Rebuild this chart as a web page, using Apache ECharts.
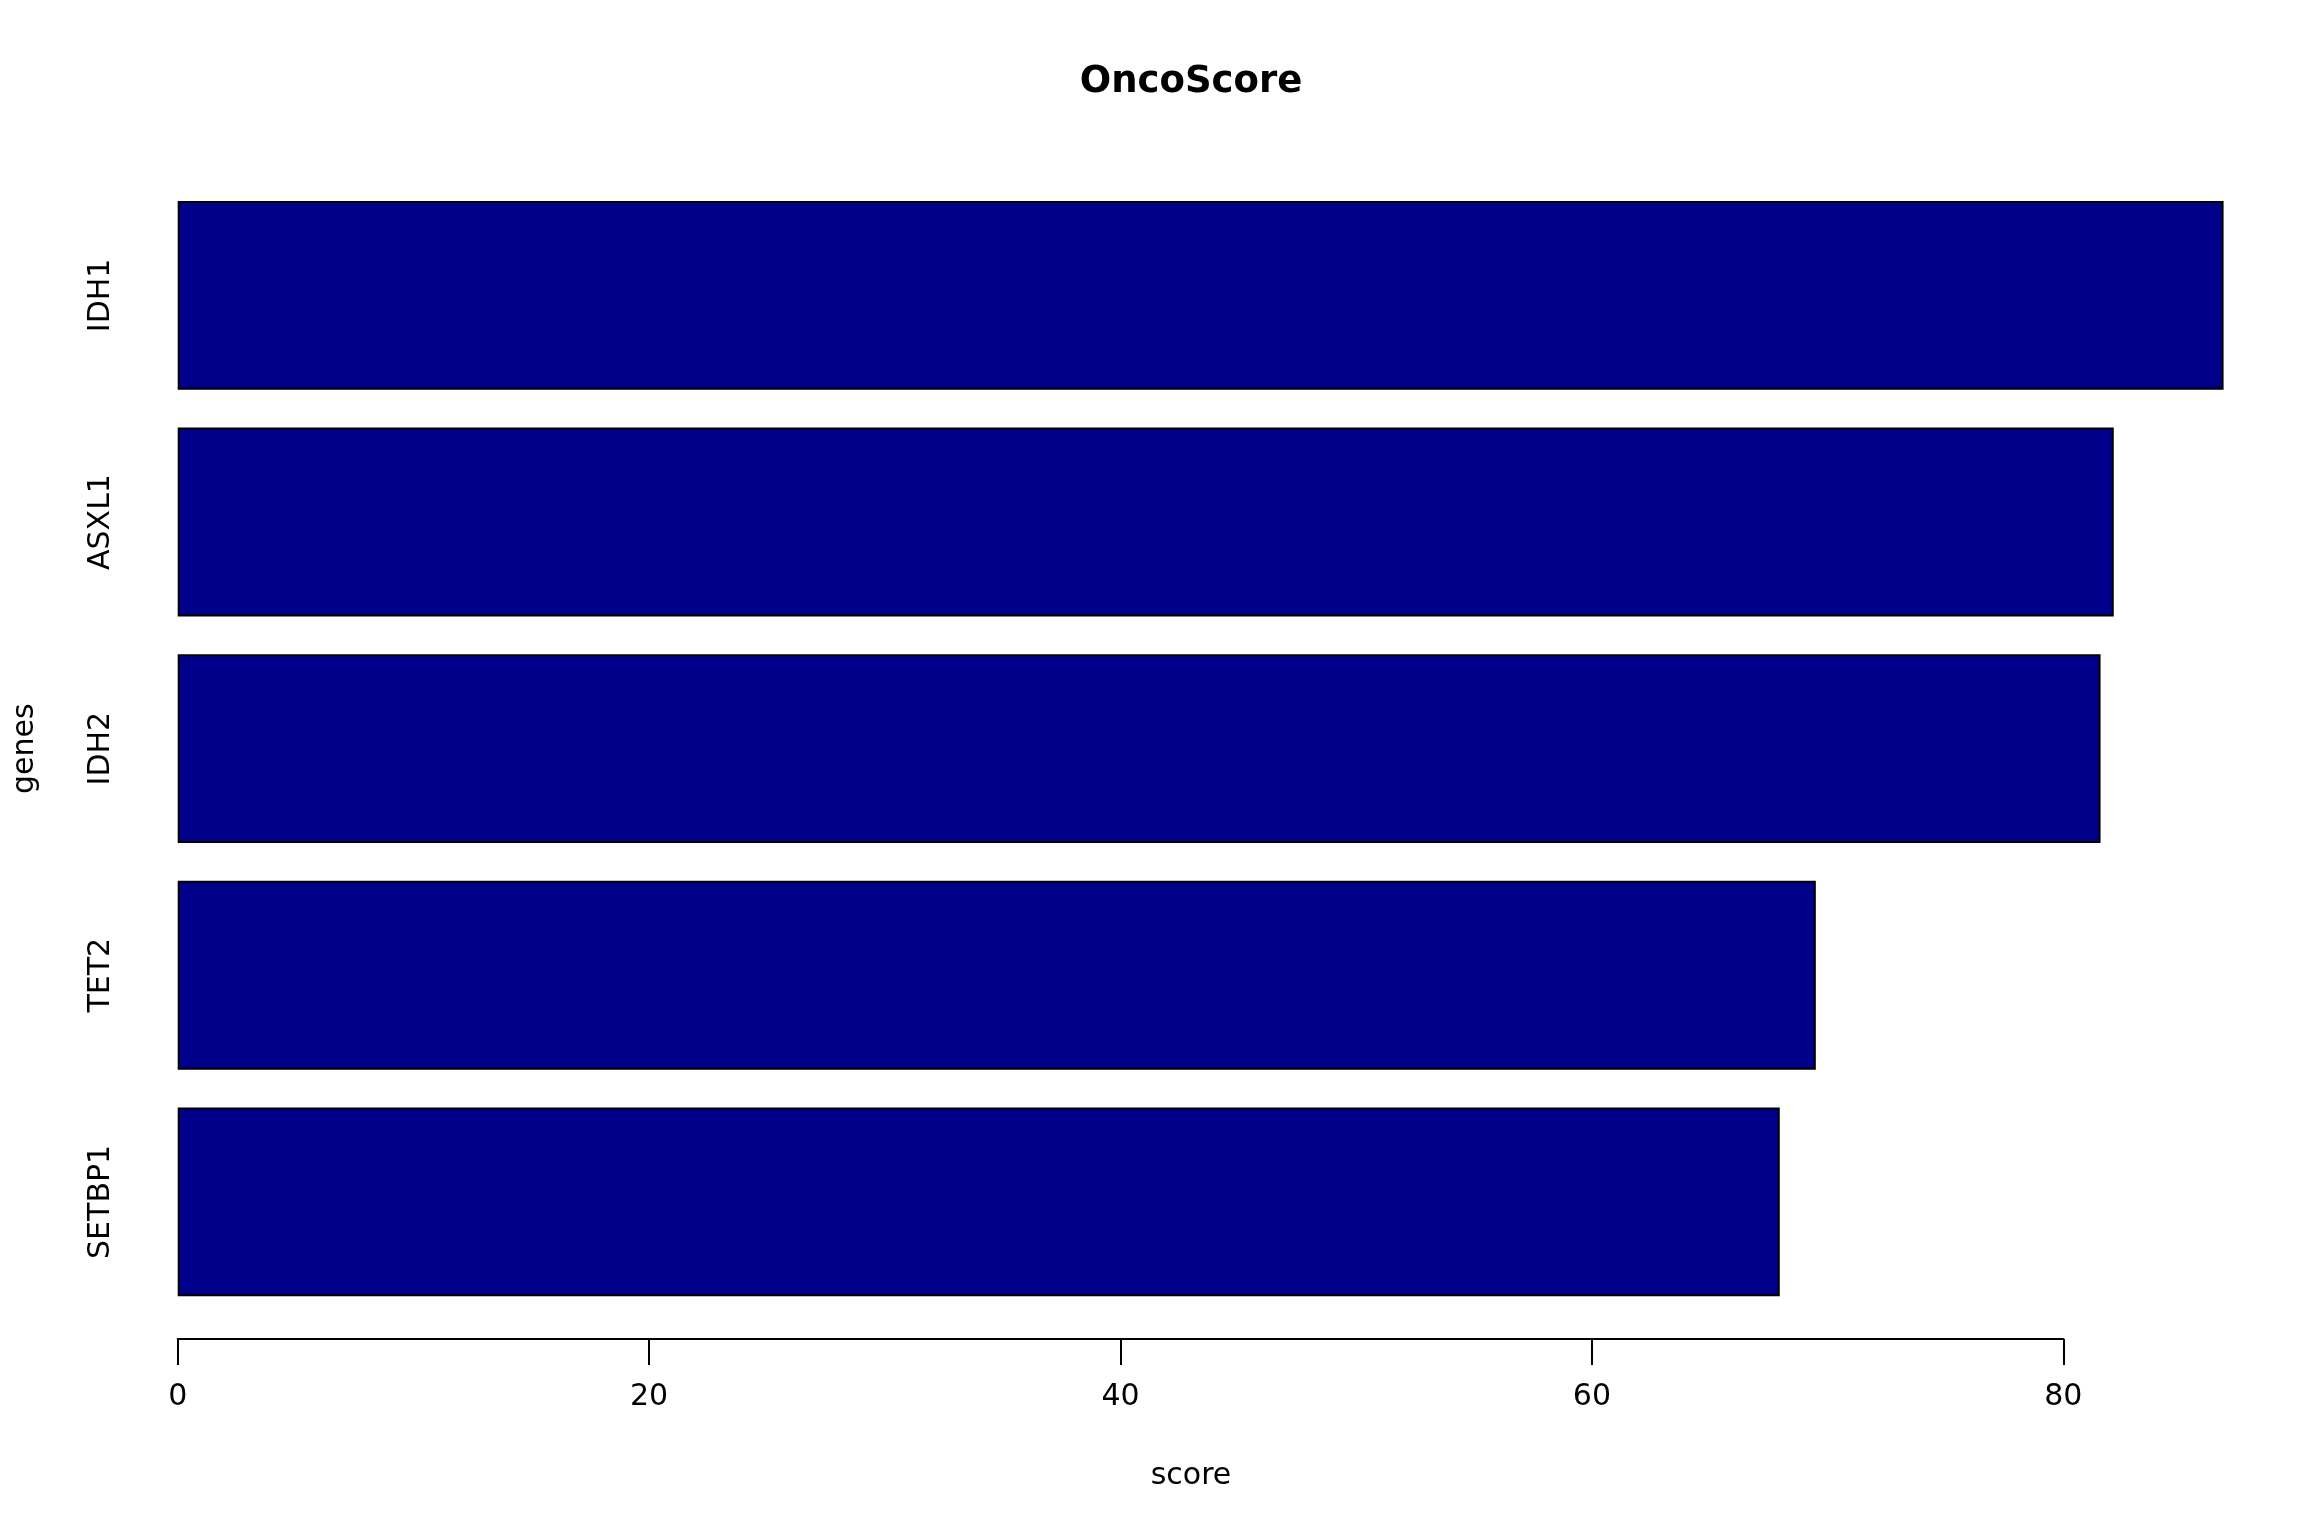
<!DOCTYPE html>
<html>
<head>
<meta charset="utf-8">
<script src="https://cdn.jsdelivr.net/npm/echarts@6/dist/echarts.min.js"></script>
<style>html,body{margin:0;padding:0;background:#fff}#c{width:2304px;height:1536px}</style>
</head>
<body>
<div id="c"></div>
<script>
const genes = ['IDH1', 'ASXL1', 'IDH2', 'TET2', 'SETBP1'];
const scores = [86.8, 82.14, 81.58, 69.5, 67.97];
const xTicks = [0, 20, 40, 60, 80];

const FONT = 'DejaVu Sans';
const chart = echarts.init(document.getElementById('c'), null, {renderer: 'canvas'});
const pxPerUnit = 23.57;
const left = 177.7;
chart.setOption({
  animation: false,
  backgroundColor: '#ffffff',
  title: [{
    text: 'OncoScore',
    left: 1186, top: 77, textAlign: 'center', textVerticalAlign: 'middle',
    textStyle: {fontFamily: FONT, fontWeight: 'bold', fontSize: 37, color: '#000'}
  }, {
    text: 'score',
    left: 1186, top: 1471, textAlign: 'center', textVerticalAlign: 'middle',
    textStyle: {fontFamily: FONT, fontWeight: 'normal', fontSize: 30, color: '#000'}
  }],
  grid: [
    {left: left, width: 90 * pxPerUnit, top: 182.1, height: 1133.1, containLabel: false, outerBoundsMode: 'none'},
    {left: left, width: (xTicks[xTicks.length-1] - xTicks[0]) * pxPerUnit, top: 182.1, height: 1157, containLabel: false, outerBoundsMode: 'none'}
  ],
  xAxis: [
    {gridIndex: 0, type: 'value', min: 0, max: 90, show: false},
    {gridIndex: 1, type: 'value', min: xTicks[0], max: xTicks[xTicks.length-1], interval: 20,
     axisLine: {show: true, lineStyle: {color: '#000', width: 2}},
     axisTick: {show: true, length: 26, lineStyle: {color: '#000', width: 2}},
     splitLine: {show: false},
     axisLabel: {fontFamily: FONT, fontSize: 30, color: '#000', margin: 43}
    }
  ],
  yAxis: [
    {gridIndex: 0, type: 'category', data: genes, inverse: true,
     axisLine: {show: false}, axisTick: {show: false}, splitLine: {show: false},
     axisLabel: {rotate: 90, fontFamily: FONT, fontSize: 30, color: '#000', margin: 61},
     name: 'genes', nameLocation: 'middle', nameGap: 137, nameRotate: 90,
     nameTextStyle: {fontFamily: FONT, fontSize: 30, color: '#000'}
    },
    {gridIndex: 1, type: 'value', show: false}
  ],
  series: [{
    type: 'bar', xAxisIndex: 0, yAxisIndex: 0,
    data: scores, barWidth: '83.33%',
    itemStyle: {color: '#00008B', borderColor: '#000', borderWidth: 2}
  }]
});
</script>
</body>
</html>
